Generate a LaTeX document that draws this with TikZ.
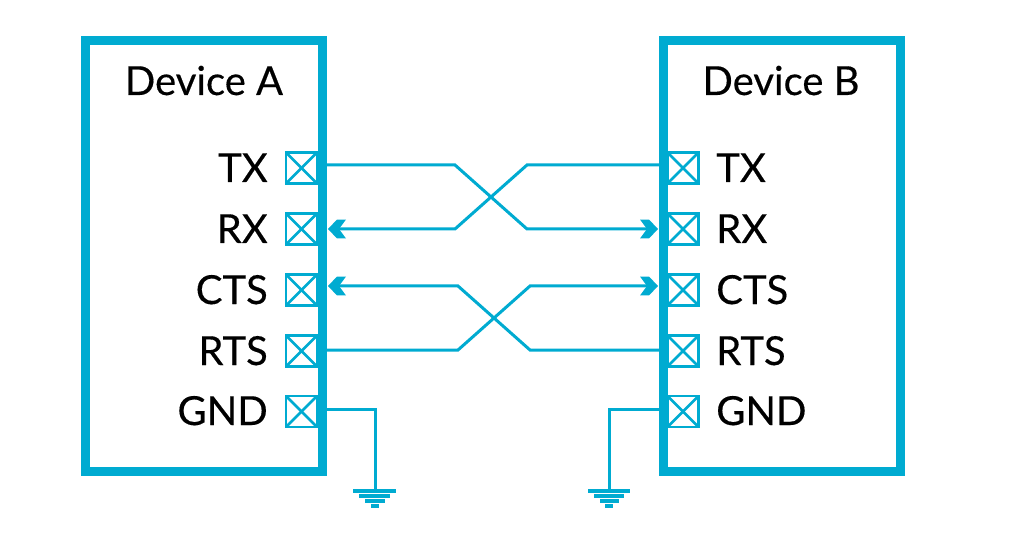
\documentclass[tikz,border=0pt]{standalone}
\usepackage{fontspec}
\setmainfont{Lato}[FakeBold=0.35]
\usetikzlibrary{arrows.meta}

\pgfdeclarearrow{
    name=Chevron,
    setup code={
        \pgfarrowssettipend{13.5pt}
        \pgfarrowssetlineend{6.5pt}
        \pgfarrowssetvisualbackend{0pt}
        \pgfarrowssetbackend{0pt}
    },
    drawing code={
        \pgfpathmoveto{\pgfqpoint{13.5pt}{0pt}}
        \pgfpathlineto{\pgfqpoint{6.75pt}{7.1pt}}
        \pgfpathlineto{\pgfqpoint{0pt}{7.1pt}}
        \pgfpathlineto{\pgfqpoint{5.25pt}{0pt}}
        \pgfpathlineto{\pgfqpoint{0pt}{-7.1pt}}
        \pgfpathlineto{\pgfqpoint{6.75pt}{-7.1pt}}
        \pgfpathclose
        \pgfusepathqfill
    }
}

\definecolor{wirecyan}{HTML}{00ABD1}
\tikzset{
    devicebox/.style={draw=wirecyan, line width=6.75pt, rectangle, inner sep=0pt},
    pinbox/.style={draw=wirecyan, line width=1.9pt, rectangle, inner sep=0pt, minimum size=23.5pt,
        path picture={
            \draw[wirecyan, line width=1.9pt] (path picture bounding box.north west) -- (path picture bounding box.south east);
            \draw[wirecyan, line width=1.9pt] (path picture bounding box.south west) -- (path picture bounding box.north east);
        }},
    wire/.style={draw=wirecyan, line width=2.25pt},
    arrowwire/.style={wire, arrows={-{Chevron}}},
    gndbar/.style={draw=wirecyan, line width=3pt},
    label/.style={font=\fontsize{30}{30}\selectfont, text=black, inner sep=0pt}
}

\begin{document}
\begin{tikzpicture}[x=0.75pt, y=-0.75pt]
        \useasboundingbox (0, 0) rectangle (1024, 538);

        % boxes
        \draw[devicebox] (85, 40.5) rectangle (322.5, 471.5);
        \draw[devicebox] (663, 40.5) rectangle (900, 471.5);

        \node[label] (titleA) at (204, 95) [anchor=base] {Device A};
        \node[label] (titleB) at (781, 95) [anchor=base] {Device B};

        % pins of A
        \node[pinbox] (txA) at (301.5, 168) {};
        \node[pinbox] (rxA) at (301.5, 229) {};
        \node[pinbox] (ctsA) at (301.5, 290) {};
        \node[pinbox] (rtsA) at (301.5, 351) {};
        \node[pinbox] (gndA) at (301.5, 411.5) {};

        % pins of B
        \node[pinbox] (txB) at (683, 168) {};
        \node[pinbox] (rxB) at (683, 229) {};
        \node[pinbox] (ctsB) at (683, 290) {};
        \node[pinbox] (rtsB) at (683, 351) {};
        \node[pinbox] (gndB) at (683, 411.5) {};

        \node[label, anchor=base east] (ltxA) at (268, 182) {TX};
        \node[label, anchor=base east] (lrxA) at (268, 243) {RX};
        \node[label, anchor=base east] (lctsA) at (268, 304) {CTS};
        \node[label, anchor=base east] (lrtsA) at (268, 365) {RTS};
        \node[label, anchor=base east] (lgndA) at (268, 425) {GND};

        \node[label, anchor=base west] (ltxB) at (716, 182) {TX};
        \node[label, anchor=base west] (lrxB) at (716, 243) {RX};
        \node[label, anchor=base west] (lctsB) at (716, 304) {CTS};
        \node[label, anchor=base west] (lrtsB) at (716, 365) {RTS};
        \node[label, anchor=base west] (lgndB) at (716, 425) {GND};

        % wire ends on the box edges
        \coordinate (TXa) at (326, 165);
        \coordinate (RXa) at (328, 229);
        \coordinate (CTSa) at (328, 286);
        \coordinate (RTSa) at (326, 350);
        \coordinate (GNDa) at (326, 409);
        \coordinate (TXb) at (659, 165);
        \coordinate (RXb) at (658, 229);
        \coordinate (CTSb) at (658, 286);
        \coordinate (RTSb) at (659, 350);
        \coordinate (GNDb) at (659, 409);

        \draw[arrowwire] (TXa) -- (455, 165) -- (527, 229) -- (RXb);
        \draw[arrowwire] (TXb) -- (527, 165) -- (455, 229) -- (RXa);
        \draw[arrowwire] (RTSa) -- (458, 350) -- (530, 286) -- (CTSb);
        \draw[arrowwire] (RTSb) -- (530, 350) -- (458, 286) -- (CTSa);

        % ground
        \coordinate (earthA) at (375, 489);
        \coordinate (earthB) at (609, 489);
        \draw[wire] (GNDa) -| (earthA);
        \draw[wire] (GNDb) -| (earthB);

        \draw[gndbar] (353, 491) -- (396, 491);
        \draw[gndbar] (359, 496) -- (390, 496);
        \draw[gndbar] (365, 501) -- (385, 501);
        \draw[gndbar] (371, 506) -- (379, 506);

        \draw[gndbar] (588, 491) -- (630, 491);
        \draw[gndbar] (594, 496) -- (624, 496);
        \draw[gndbar] (600, 501) -- (619, 501);
        \draw[gndbar] (605, 506) -- (613, 506);
\end{tikzpicture}
\end{document}
